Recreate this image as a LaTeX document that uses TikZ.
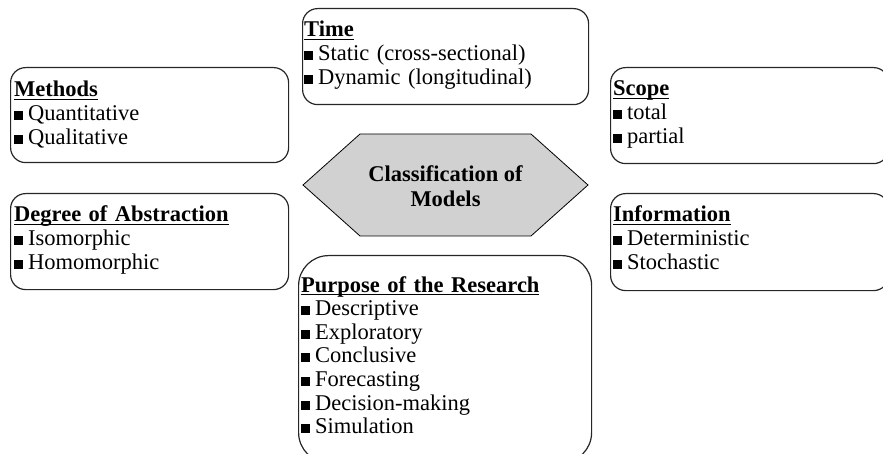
\documentclass[tikz,border=0pt]{standalone}
\usepackage{fontspec}
\setmainfont{Liberation Serif}
\newcommand{\sq}{\raisebox{0.5pt}{\rule{9pt}{9pt}}\hspace{5pt}}
\newcommand{\hd}[1]{\setbox0\hbox{\bfseries #1}\rlap{\rule[-3.5pt]{\wd0}{1.3pt}}\box0}
\begin{document}
\begin{tikzpicture}[x=1pt,y=-1pt]
            \tikzstyle{every node}+=[inner sep=0pt]
            \tikzstyle{box}=[draw=black!85, line width=1.2pt, rounded corners=15pt, anchor=north west]
            \tikzstyle{list}=[anchor=base west, text width=265pt, align=left, font=\fontsize{22.5}{24}\selectfont]
            \useasboundingbox (0,0) rectangle (883,454);
            \node [box, minimum width=286pt, minimum height=96pt] (time) at (302,8) {};
            \node [list] (timetxt) at (304,37) {\hd{Time}\\\sq Static (cross-sectional)\\\sq Dynamic (longitudinal)};
            \node [box, minimum width=278pt, minimum height=95pt] (methods) at (10,67) {};
            \node [list] (methodstxt) at (14,97) {\hd{Methods}\\\sq Quantitative\\\sq Qualitative};
            \node [box, minimum width=278pt, minimum height=96pt] (scope) at (610,67) {};
            \node [list] (scopetxt) at (613,96) {\hd{Scope}\\\sq total\\\sq partial};
            \node [box, minimum width=278pt, minimum height=96pt] (abstr) at (10,193) {};
            \node [list] (abstrtxt) at (14,222) {\hd{Degree of Abstraction}\\\sq Isomorphic\\\sq Homomorphic};
            \node [box, minimum width=278pt, minimum height=97pt] (info) at (610,193) {};
            \node [list] (infotxt) at (613,222) {\hd{Information}\\\sq Deterministic\\\sq Stochastic};
            \node [box, rounded corners=30pt, minimum width=293pt, minimum height=207pt] (purpose) at (298,255) {};
            \node [list, font=\fontsize{22.5}{23.6}\selectfont] (purposetxt) at (301,292) {\hd{Purpose of the Research}\\\sq Descriptive\\\sq Exploratory\\\sq Conclusive\\\sq Forecasting\\\sq Decision-making\\\sq Simulation};
            \draw [black, fill=black!18, line width=0.8pt] (303,185) -- (360,134) -- (531,134) -- (588,185) -- (531,236) -- (360,236) -- cycle;
            \node [align=center, font=\bfseries\fontsize{22.5}{25}\selectfont] (cls) at (445.5,186) {Classification of\\Models};
\end{tikzpicture}
\end{document}
